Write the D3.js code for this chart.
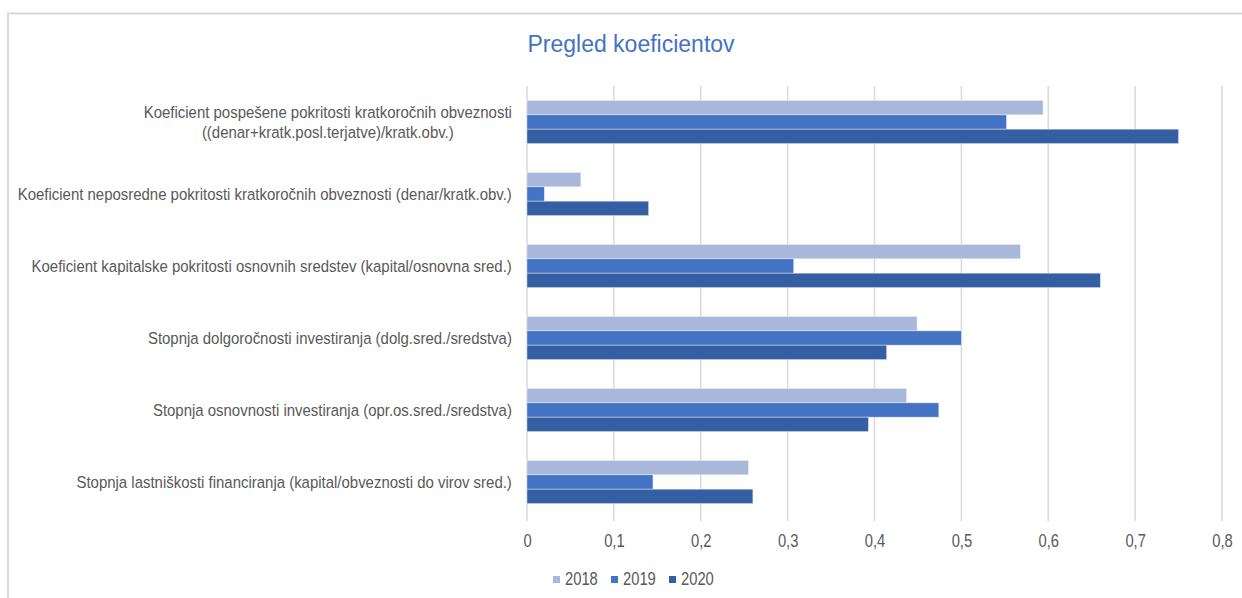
<!DOCTYPE html>
<html>
<head>
<meta charset="utf-8">
<script src="https://cdn.jsdelivr.net/npm/d3@7"></script>
<style>
  html, body { margin: 0; padding: 0; background: #ffffff; }
  svg { display: block; }
  text { font-family: "Liberation Sans", Arial, sans-serif; }
</style>
</head>
<body>
<svg id="chart" width="1242" height="598"></svg>
<script>
// Ratio categories (top to bottom), label lines per category
const categories = [
  ["Koeficient pospešene pokritosti kratkoročnih obveznosti", "((denar+kratk.posl.terjatve)/kratk.obv.)"],
  ["Koeficient neposredne pokritosti kratkoročnih obveznosti (denar/kratk.obv.)"],
  ["Koeficient kapitalske pokritosti osnovnih sredstev (kapital/osnovna sred.)"],
  ["Stopnja dolgoročnosti investiranja (dolg.sred./sredstva)"],
  ["Stopnja osnovnosti investiranja (opr.os.sred./sredstva)"],
  ["Stopnja lastniškosti financiranja (kapital/obveznosti do virov sred.)"]
];
const years = ["2018", "2019", "2020"];
const values2018 = [0.594, 0.062, 0.568, 0.449, 0.437, 0.255];
const values2019 = [0.552, 0.020, 0.307, 0.500, 0.474, 0.145];
const values2020 = [0.750, 0.140, 0.660, 0.414, 0.393, 0.260];
const tickValues = [0, 0.1, 0.2, 0.3, 0.4, 0.5, 0.6, 0.7, 0.8];
const colors = ["#a9b7db", "#4472c4", "#355fa3"];
const title = "Pregled koeficientov";

// horizontal squeeze that gives Arial-metric text a narrow look
const NARROW = 0.82;
const LABEL_NARROW = 0.88;

const seriesValues = [values2018, values2019, values2020];
const rows = categories.map((lines, i) => ({
  key: i,
  lines,
  vals: years.map((y, j) => ({ year: y, value: seriesValues[j][i] }))
}));

const svg = d3.select("#chart");

// chart frame
svg.append("path")
  .attr("d", "M8,620 L8,13.5 L1250,13.5")
  .attr("fill", "none")
  .attr("stroke", "#d9d9d9")
  .attr("stroke-width", 2);

const x = d3.scaleLinear().domain([0, 0.8]).range([527, 1222]);
const y = d3.scaleBand().domain(rows.map(r => r.key)).range([86, 518])
  .paddingInner(0.4).paddingOuter(0.2);
const ySub = d3.scaleBand().domain(years).range([0, y.bandwidth()]);

// vertical gridlines
svg.append("g")
  .selectAll("line")
  .data(tickValues)
  .join("line")
  .attr("x1", d => x(d)).attr("x2", d => x(d))
  .attr("y1", 86).attr("y2", 521)
  .attr("stroke", "#d9d9d9")
  .attr("stroke-width", 1.5);

// bars
const groups = svg.append("g")
  .selectAll("g")
  .data(rows)
  .join("g")
  .attr("transform", d => `translate(0,${y(d.key)})`);

groups.selectAll("rect")
  .data(d => d.vals)
  .join("rect")
  .attr("x", x(0))
  .attr("y", d => ySub(d.year))
  .attr("width", d => x(d.value) - x(0))
  .attr("height", ySub.bandwidth())
  .attr("fill", (d, i) => colors[i])
  .attr("stroke", "#ffffff")
  .attr("stroke-opacity", 0.5)
  .attr("stroke-width", 0.8);

// category labels (right-aligned block; wrapped lines centred under each other)
const labelRight = 512;
const lh = 20;
const labelG = svg.append("g").attr("font-size", 17).attr("fill", "#595959");
rows.forEach(r => {
  const cy = y(r.key) + y.bandwidth() / 2;
  const n = r.lines.length;
  const g = labelG.append("g");
  const texts = r.lines.map((line, k) =>
    g.append("text")
      .attr("y", (k - (n - 1) / 2) * lh)
      .attr("dy", "0.35em")
      .attr("text-anchor", "middle")
      .text(line));
  const widest = d3.max(texts, t => t.node().getComputedTextLength()) * LABEL_NARROW;
  g.attr("transform", `translate(${labelRight - widest / 2},${cy}) scale(${LABEL_NARROW},1)`);
});

// x axis tick labels
const fmt = v => d3.format("")(v).replace(".", ",");
const axis = d3.axisBottom(x).tickValues(tickValues).tickFormat(fmt).tickSize(0).tickPadding(0);
const axG = svg.append("g").attr("transform", "translate(0,534)").call(axis);
axG.select(".domain").remove();
axG.attr("font-family", null);
axG.selectAll("text")
  .attr("font-size", 18)
  .attr("fill", "#595959")
  .attr("dy", "0.71em")
  .attr("transform", `scale(${NARROW},1)`);

// title
svg.append("text")
  .attr("x", 631).attr("y", 52)
  .attr("text-anchor", "middle")
  .attr("font-size", 23)
  .attr("fill", "#4472c4")
  .text(title);

// legend
const legendX = [553, 611, 669];
const lg = svg.append("g");
years.forEach((yr, i) => {
  lg.append("rect")
    .attr("x", legendX[i]).attr("y", 576)
    .attr("width", 7).attr("height", 7)
    .attr("fill", colors[i]);
  lg.append("text")
    .attr("transform", `translate(${legendX[i] + 12},585) scale(${NARROW},1)`)
    .attr("font-size", 18)
    .attr("fill", "#595959")
    .text(yr);
});
</script>
</body>
</html>
